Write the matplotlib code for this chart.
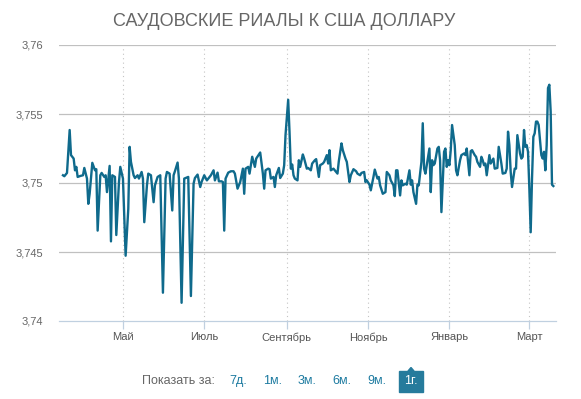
import matplotlib
matplotlib.use("Agg")
import matplotlib.pyplot as plt
import pandas as pd
from matplotlib.patches import Rectangle, Polygon

plt.rcParams['font.family'] = ['Liberation Sans', 'DejaVu Sans']

title = "САУДОВСКИЕ РИАЛЫ К США ДОЛЛАРУ"

dates = [
    "2015-03-17", "2015-03-18", "2015-03-20", "2015-03-22", "2015-03-23", "2015-03-25", "2015-03-26", "2015-03-27",
    "2015-03-28", "2015-03-30", "2015-04-01", "2015-04-02", "2015-04-04", "2015-04-05", "2015-04-06", "2015-04-08",
    "2015-04-10", "2015-04-11", "2015-04-12", "2015-04-14", "2015-04-15", "2015-04-17", "2015-04-18", "2015-04-19",
    "2015-04-21", "2015-04-22", "2015-04-23", "2015-04-25", "2015-04-26", "2015-04-28", "2015-04-29", "2015-05-01",
    "2015-05-03", "2015-05-05", "2015-05-06", "2015-05-07", "2015-05-09", "2015-05-10", "2015-05-12", "2015-05-13",
    "2015-05-15", "2015-05-16", "2015-05-17", "2015-05-19", "2015-05-20", "2015-05-22", "2015-05-24", "2015-05-25",
    "2015-05-27", "2015-05-29", "2015-05-31", "2015-06-02", "2015-06-03", "2015-06-05", "2015-06-07", "2015-06-08",
    "2015-06-09", "2015-06-11", "2015-06-12", "2015-06-14", "2015-06-16", "2015-06-17", "2015-06-19", "2015-06-21",
    "2015-06-23", "2015-06-24", "2015-06-26", "2015-06-28", "2015-06-29", "2015-07-01", "2015-07-03", "2015-07-05",
    "2015-07-06", "2015-07-08", "2015-07-09", "2015-07-11", "2015-07-12", "2015-07-14", "2015-07-15", "2015-07-16",
    "2015-07-17", "2015-07-19", "2015-07-21", "2015-07-23", "2015-07-24", "2015-07-26", "2015-07-28", "2015-07-30",
    "2015-07-31", "2015-08-01", "2015-08-03", "2015-08-04", "2015-08-06", "2015-08-08", "2015-08-09", "2015-08-11",
    "2015-08-12", "2015-08-14", "2015-08-15", "2015-08-16", "2015-08-18", "2015-08-19", "2015-08-20", "2015-08-22",
    "2015-08-23", "2015-08-24", "2015-08-26", "2015-08-27", "2015-08-29", "2015-08-30", "2015-08-31", "2015-09-02",
    "2015-09-03", "2015-09-04", "2015-09-05", "2015-09-06", "2015-09-07", "2015-09-09", "2015-09-10", "2015-09-11",
    "2015-09-13", "2015-09-14", "2015-09-16", "2015-09-17", "2015-09-19", "2015-09-20", "2015-09-22", "2015-09-23",
    "2015-09-25", "2015-09-26", "2015-09-28", "2015-09-29", "2015-10-01", "2015-10-02", "2015-10-03", "2015-10-04",
    "2015-10-06", "2015-10-07", "2015-10-09", "2015-10-10", "2015-10-12", "2015-10-13", "2015-10-15", "2015-10-16",
    "2015-10-18", "2015-10-19", "2015-10-21", "2015-10-23", "2015-10-24", "2015-10-26", "2015-10-27", "2015-10-29",
    "2015-10-30", "2015-10-31", "2015-11-02", "2015-11-03", "2015-11-05", "2015-11-06", "2015-11-08", "2015-11-09",
    "2015-11-10", "2015-11-12", "2015-11-14", "2015-11-15", "2015-11-17", "2015-11-18", "2015-11-20", "2015-11-21",
    "2015-11-22", "2015-11-23", "2015-11-25", "2015-11-26", "2015-11-27", "2015-11-29", "2015-11-30", "2015-12-02",
    "2015-12-03", "2015-12-04", "2015-12-05", "2015-12-07", "2015-12-08", "2015-12-09", "2015-12-11", "2015-12-12",
    "2015-12-13", "2015-12-14", "2015-12-15", "2015-12-17", "2015-12-18", "2015-12-19", "2015-12-20", "2015-12-21",
    "2015-12-23", "2015-12-24", "2015-12-25", "2015-12-26", "2015-12-28", "2015-12-29", "2015-12-30", "2015-12-31",
    "2016-01-01", "2016-01-02", "2016-01-03", "2016-01-05", "2016-01-06", "2016-01-07", "2016-01-09", "2016-01-10",
    "2016-01-12", "2016-01-13", "2016-01-14", "2016-01-16", "2016-01-17", "2016-01-18", "2016-01-20", "2016-01-21",
    "2016-01-22", "2016-01-24", "2016-01-25", "2016-01-26", "2016-01-27", "2016-01-28", "2016-01-29", "2016-01-31",
    "2016-02-01", "2016-02-03", "2016-02-04", "2016-02-06", "2016-02-07", "2016-02-09", "2016-02-10", "2016-02-12",
    "2016-02-13", "2016-02-14", "2016-02-15", "2016-02-16", "2016-02-17", "2016-02-19", "2016-02-20", "2016-02-21",
    "2016-02-23", "2016-02-24", "2016-02-25", "2016-02-26", "2016-02-27", "2016-02-28", "2016-02-29", "2016-03-01",
    "2016-03-02", "2016-03-03", "2016-03-04", "2016-03-05", "2016-03-06", "2016-03-07", "2016-03-08", "2016-03-10",
    "2016-03-11", "2016-03-12", "2016-03-13", "2016-03-14", "2016-03-15", "2016-03-16", "2016-03-17", "2016-03-18",
    "2016-03-19",
]

rates = [
    3.75056, 3.75049, 3.75073, 3.75384, 3.75202, 3.75177, 3.75092, 3.75117,
    3.75044, 3.75051, 3.75056, 3.75109, 3.75032, 3.74849, 3.74922, 3.75146,
    3.75092, 3.75100, 3.74655, 3.75056, 3.75073, 3.75044, 3.75056, 3.74934,
    3.75124, 3.74577, 3.75056, 3.75044, 3.74623, 3.75007, 3.75117, 3.75032,
    3.74473, 3.74813, 3.75262, 3.75153, 3.75056, 3.75036, 3.75056, 3.75032,
    3.75080, 3.75032, 3.74716, 3.74983, 3.75068, 3.75056, 3.74861, 3.74983,
    3.75044, 3.75056, 3.74205, 3.75032, 3.75080, 3.75068, 3.74801, 3.75056,
    3.75085, 3.75148, 3.75032, 3.74132, 3.75032, 3.75036, 3.75044, 3.74181,
    3.74995, 3.75036, 3.75061, 3.74971, 3.75007, 3.75056, 3.75019, 3.75044,
    3.75056, 3.75092, 3.75019, 3.75075, 3.75012, 3.75012, 3.75007, 3.74655,
    3.75032, 3.75075, 3.75085, 3.75085, 3.75068, 3.74959, 3.75007, 3.75104,
    3.74922, 3.75104, 3.75117, 3.75068, 3.75190, 3.75117, 3.75177, 3.75207,
    3.75221, 3.75068, 3.74959, 3.75092, 3.75104, 3.75100, 3.75032, 3.75044,
    3.74971, 3.75056, 3.75109, 3.75036, 3.75068, 3.75129, 3.75347, 3.75603,
    3.75372, 3.75104, 3.75134, 3.75056, 3.75032, 3.75019, 3.75165, 3.75117,
    3.75207, 3.75177, 3.75104, 3.75109, 3.75092, 3.75141, 3.75165, 3.75173,
    3.75044, 3.75129, 3.75141, 3.75153, 3.75202, 3.75141, 3.75238, 3.75092,
    3.75104, 3.75092, 3.75068, 3.75158, 3.75287, 3.75238, 3.75177, 3.75153,
    3.75007, 3.75056, 3.75100, 3.75085, 3.75068, 3.75056, 3.75073, 3.75080,
    3.75007, 3.75019, 3.74988, 3.74947, 3.75044, 3.75097, 3.75032, 3.75044,
    3.74983, 3.74922, 3.74934, 3.75080, 3.75056, 3.75019, 3.74983, 3.74905,
    3.75092, 3.75092, 3.74910, 3.75019, 3.74983, 3.74995, 3.74988, 3.75092,
    3.74988, 3.75019, 3.74934, 3.74849, 3.74988, 3.74983, 3.75153, 3.75433,
    3.75104, 3.75068, 3.75129, 3.75250, 3.74934, 3.75165, 3.75129, 3.75141,
    3.75250, 3.75262, 3.75165, 3.74789, 3.75226, 3.75250, 3.75117, 3.75165,
    3.75129, 3.75238, 3.75420, 3.75275, 3.75092, 3.75056, 3.75165, 3.75202,
    3.75214, 3.75202, 3.75250, 3.75056, 3.75231, 3.75238, 3.75202, 3.75190,
    3.75153, 3.75117, 3.75190, 3.75165, 3.75129, 3.75141, 3.75056, 3.75202,
    3.75141, 3.75177, 3.75104, 3.75109, 3.75262, 3.75141, 3.75068, 3.75073,
    3.75104, 3.75372, 3.75275, 3.75080, 3.74971, 3.75104, 3.75104, 3.75347,
    3.75214, 3.75177, 3.75190, 3.75384, 3.75262, 3.75275, 3.75226, 3.74959,
    3.74643, 3.75032, 3.75335, 3.75360, 3.75445, 3.75445, 3.75420, 3.75202,
    3.75177, 3.75226, 3.75092, 3.75275, 3.75688, 3.75712, 3.75518, 3.74988,
    3.74978,
]

y_ticks = [3.74, 3.745, 3.75, 3.755, 3.76]
y_labels = ["3,74", "3,745", "3,75", "3,755", "3,76"]
month_ticks = ["2015-05-01", "2015-07-01", "2015-09-01", "2015-11-01", "2016-01-01", "2016-03-01"]
month_labels = ["Май", "Июль", "Сентябрь", "Ноябрь", "Январь", "Март"]
period_label = "Показать за:"
periods = ["7д.", "1м.", "3м.", "6м.", "9м.", "1г."]

W, H = 581, 399
fig = plt.figure(figsize=(W / 100, H / 100), dpi=100)
ax = fig.add_axes([59 / W, 1 - 321 / H, (556 - 59) / W, (321 - 45) / H])

x = pd.to_datetime(dates)
ax.plot(x, rates, color='#0f6a8c', lw=1.7, solid_joinstyle='round', zorder=3)

ax.set_ylim(3.74, 3.76)
ax.set_xlim(pd.Timestamp("2015-03-14"), pd.Timestamp("2016-03-21"))
ax.set_yticks(y_ticks, y_labels)
ax.set_xticks(pd.to_datetime(month_ticks), month_labels)

# grid
for y in y_ticks[1:]:
    ax.axhline(y, color='#c0c0c0', lw=0.9, zorder=1)
for t in pd.to_datetime(month_ticks):
    ax.axvline(t, color='#c4c4c4', lw=0.8, ls=(0, (1, 3)), zorder=1)

for s in ['top', 'right', 'left']:
    ax.spines[s].set_visible(False)
ax.spines['bottom'].set_color('#c0d0e0')
ax.spines['bottom'].set_linewidth(0.9)
ax.tick_params(axis='y', length=0, pad=11.5, labelsize=8, labelcolor='#666666')
ax.tick_params(axis='x', length=6, width=0.9, color='#c0d0e0', pad=2,
               labelsize=8, labelcolor='#555555')

fig.text(284 / W, 1 - 21 / H, title, ha='center', va='center',
         fontsize=13, color='#666666')

# period selector below the chart
fig.text(215 / W, 1 - 381 / H, period_label, ha='right', va='center',
         fontsize=9, color='#666666')
for i, p in enumerate(periods):
    cx = 238 + i * 34.6
    if i == len(periods) - 1:
        fig.patches.append(Rectangle((399 / W, 1 - 392 / H), 24 / W, 21 / H,
                                     transform=fig.transFigure, color='#267b9c'))
        fig.patches.append(Polygon([((cx - 3) / W, 1 - 371 / H), ((cx + 3) / W, 1 - 371 / H),
                                    (cx / W, 1 - 367.5 / H)], closed=True,
                                   transform=fig.transFigure, color='#267b9c'))
        fig.text(cx / W, 1 - 381 / H, p, ha='center', va='center',
                 fontsize=9, color='white')
    else:
        fig.text(cx / W, 1 - 381 / H, p, ha='center', va='center',
                 fontsize=9, color='#1c7aa0')

fig.savefig("out.png", dpi=100)
